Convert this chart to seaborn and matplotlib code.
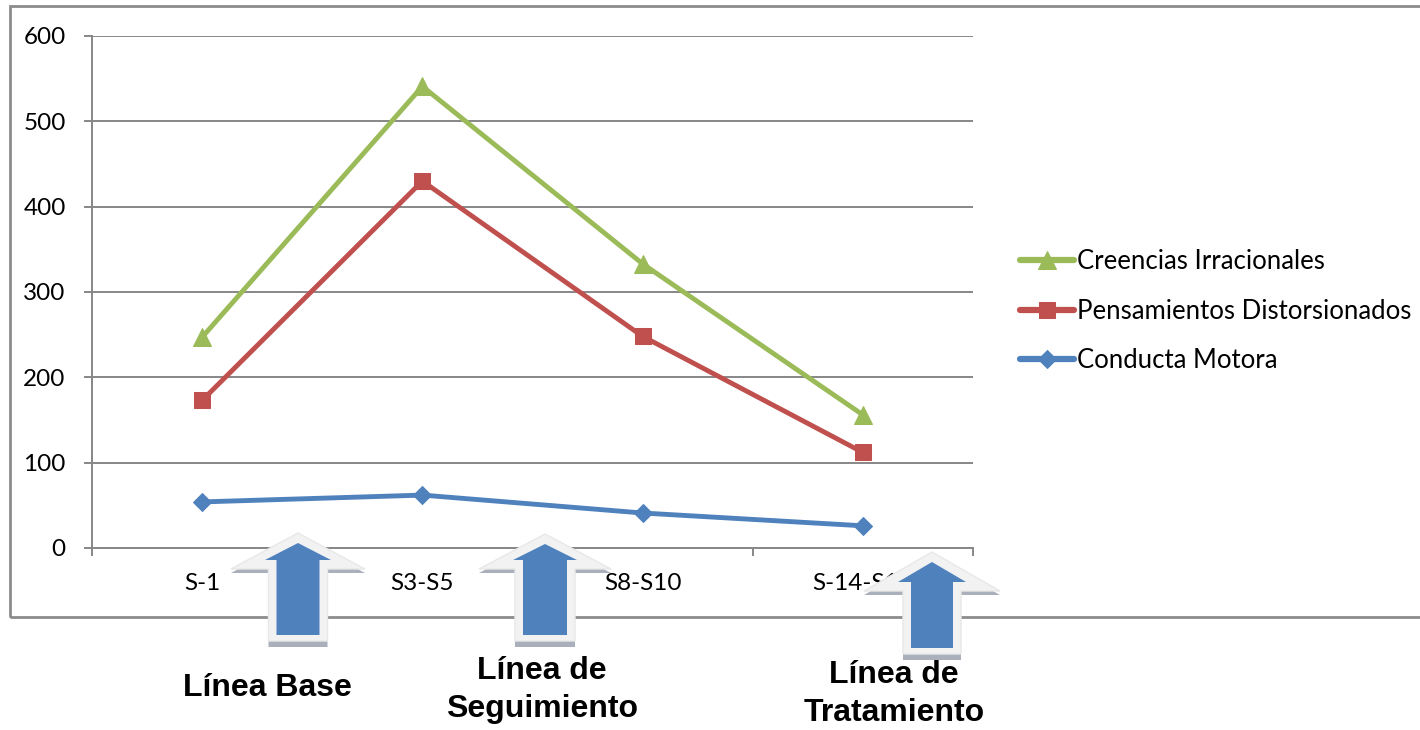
import numpy as np
import pandas as pd
import matplotlib
matplotlib.use("Agg")
import matplotlib.pyplot as plt
from matplotlib.patches import Polygon, Rectangle
import seaborn as sns

# ---- data ----
categories = ["S-1", "S3-S5", "S8-S10", "S-14-S16"]
creencias = [247, 541, 333, 156]
pensamientos = [173, 430, 248, 112]
conducta = [54, 62, 41, 26]
series_names = ["Creencias Irracionales", "Pensamientos Distorsionados", "Conducta Motora"]
y_ticks = [0, 100, 200, 300, 400, 500, 600]
phase_labels = ["Línea Base", "Línea de\nSeguimiento", "Línea de\nTratamiento"]

sns.set_style("white")
plt.rcParams["font.family"] = ["Lato", "DejaVu Sans"]
plt.rcParams["text.color"] = "black"

W, H = 1420, 730
fig = plt.figure(figsize=(W / 100, H / 100), dpi=100)

def fx(px):
    return px / W

def fy(py):
    return 1 - py / H

ax = fig.add_axes([fx(92), fy(548), fx(973) - fx(92), fy(36) - fy(548)])

colors = ["#9BBB59", "#C0504D", "#4F81BD"]
markers = ["^", "s", "D"]
msizes = [13, 12, 9]
xpos = np.arange(len(categories))
for vals, name, c, m, ms in zip([creencias, pensamientos, conducta], series_names, colors, markers, msizes):
    df = pd.DataFrame({"x": xpos, "y": vals})
    sns.lineplot(data=df, x="x", y="y", ax=ax, color=c, linewidth=3.5, marker=m,
                 markersize=ms, markeredgecolor=c, label=name, zorder=3)

ax.set_xlim(-0.5, 3.5)
ax.set_ylim(0, 600)
ax.set_yticks(y_ticks)
ax.set_xticks(xpos)
ax.set_xticklabels(categories)
ax.set_xticks(np.arange(-0.5, 4.0, 1.0), minor=True)
ax.set_xlabel("")
ax.set_ylabel("")
ax.yaxis.grid(True, color="#878787", linewidth=1.4)
ax.xaxis.grid(False)
ax.set_axisbelow(True)
for s in ["top", "right"]:
    ax.spines[s].set_visible(False)
for s in ["left", "bottom"]:
    ax.spines[s].set_color("#878787")
    ax.spines[s].set_linewidth(1.4)
ax.tick_params(axis="y", which="major", length=6, width=1.4, color="#878787",
               direction="out", pad=13, labelsize=17.5, labelcolor="black", left=True)
ax.tick_params(axis="x", which="major", length=0, pad=18, labelsize=17.5, labelcolor="black")
ax.tick_params(axis="x", which="minor", length=6, width=1.4, color="#878787",
               direction="out", bottom=True)

leg = ax.legend(loc="center left", bbox_to_anchor=(fx(997), fy(311)),
                bbox_transform=fig.transFigure, frameon=False, fontsize=18.5,
                handlelength=2.1, handletextpad=0.1, labelspacing=0.95)
for h in leg.get_lines():
    h.set_linewidth(4.5)
for t in leg.get_texts():
    t.set_color("black")

# outer chart border
fig.add_artist(Rectangle((fx(10), fy(617)), fx(1440) - fx(10), fy(6) - fy(617),
                         transform=fig.transFigure, fill=False, edgecolor="#8C8C8C",
                         linewidth=2, zorder=1))

def up_arrow(cx, tip, base, bottom, hw, sw):
    return [(fx(cx), fy(tip)), (fx(cx + hw), fy(base)), (fx(cx + sw), fy(base)),
            (fx(cx + sw), fy(bottom)), (fx(cx - sw), fy(bottom)), (fx(cx - sw), fy(base)),
            (fx(cx - hw), fy(base))]

arrow_specs = [(298, 543, 560, 635, 33, 21.5),
               (545, 544, 560, 635, 32, 22),
               (932, 562, 582, 648, 34, 21)]
for cx, tip, base, bottom, hw, sw in arrow_specs:
    shadow = Polygon(up_arrow(cx, tip - 6, base + 13, bottom + 12, hw + 34, sw + 8),
                     closed=True, transform=fig.transFigure, facecolor="#A9B0BC",
                     edgecolor="none", zorder=10)
    glow = Polygon(up_arrow(cx, tip - 10, base + 9, bottom + 6, hw + 34, sw + 8),
                   closed=True, transform=fig.transFigure, facecolor="#F2F2F2",
                   edgecolor="#E8E8E8", linewidth=1, zorder=11)
    blue = Polygon(up_arrow(cx, tip, base, bottom, hw, sw), closed=True,
                   transform=fig.transFigure, facecolor="#4F81BD",
                   edgecolor="none", zorder=12)
    for p in (shadow, glow, blue):
        fig.add_artist(p)

label_pos = [(267, 688), (542, 690), (894, 694)]
for (lx, ly), txt in zip(label_pos, phase_labels):
    fig.text(fx(lx), fy(ly), txt, ha="center", va="center", fontsize=23,
             fontweight="bold", family=["Liberation Sans", "DejaVu Sans"],
             color="black", linespacing=1.38, zorder=13)

fig.savefig("out.png", dpi=100, facecolor="white")
